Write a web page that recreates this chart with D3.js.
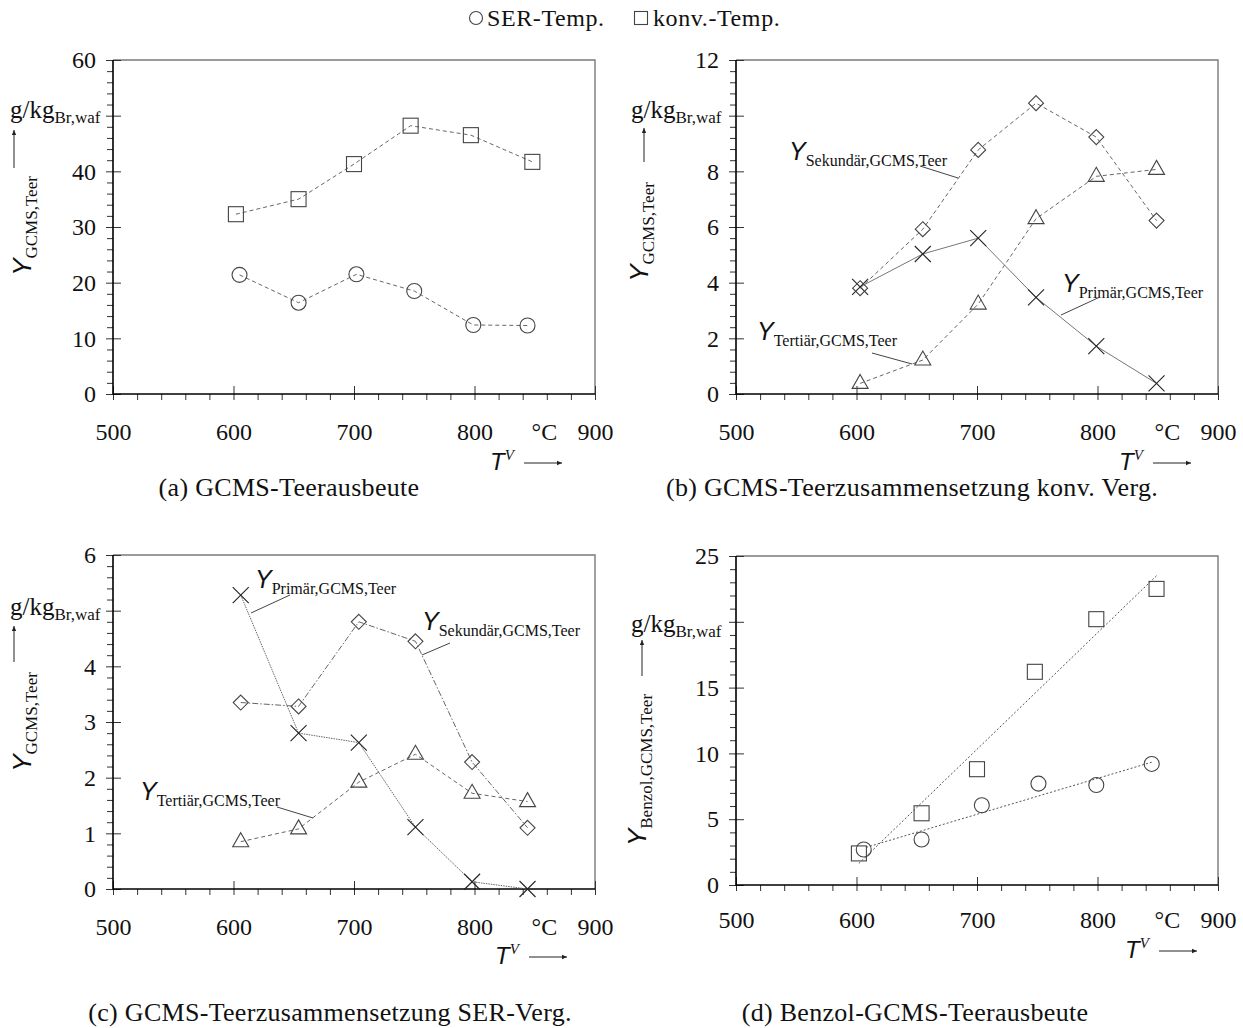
<!DOCTYPE html>
<html><head><meta charset="utf-8">
<script src="https://cdn.jsdelivr.net/npm/d3@7"></script>
<style>
body{margin:0;background:#fff}
svg text{font-family:"Liberation Serif","DejaVu Serif",serif;fill:#111}
</style>
</head><body>
<svg id="chart" width="1243" height="1028"></svg>
<script>
// ---------- data ----------
const xTickValues = [500, 600, 700, 800, 900];
const legendLabels = ["SER-Temp.", "konv.-Temp."];
const captions = ["(a) GCMS-Teerausbeute", "(b) GCMS-Teerzusammensetzung konv. Verg.",
                  "(c) GCMS-Teerzusammensetzung SER-Verg.", "(d) Benzol-GCMS-Teerausbeute"];

// (a) GCMS tar yield
const aTempSER  = [605, 654, 702, 750, 799, 844];
const aYieldSER = [21.4, 16.4, 21.5, 18.5, 12.4, 12.3];
const aTempKonv = [602, 654, 700, 747, 797, 848];
const aYieldKonv = [32.3, 35.0, 41.3, 48.2, 46.5, 41.7];
const aYTicks = [0, 10, 20, 30, 40, 50, 60];

// (b) composition, conventional gasification
const bTemp = [603, 655, 701, 749, 799, 849];
const bSekundaer = [3.8, 5.92, 8.77, 10.45, 9.23, 6.23];
const bPrimaer   = [3.85, 5.03, 5.6, 3.47, 1.72, 0.38];
const bTertiaer  = [0.38, 1.22, 3.23, 6.3, 7.82, 8.07];
const bYTicks = [0, 2, 4, 6, 8, 10, 12];

// (c) composition, SER gasification
const cTemp = [606, 654, 704, 751, 798, 844];
const cSekundaer = [3.35, 3.28, 4.8, 4.45, 2.28, 1.1];
const cPrimaer   = [5.28, 2.8, 2.63, 1.11, 0.13, 0.0];
const cTertiaer  = [0.85, 1.08, 1.92, 2.42, 1.72, 1.57];
const cYTicks = [0, 1, 2, 3, 4, 5, 6];

// (d) benzene yield
const dTempKonv  = [602, 654, 700, 748, 799, 849];
const dYieldKonv = [2.4, 5.45, 8.8, 16.2, 20.2, 22.5];
const dTempSER   = [606, 654, 704, 751, 799, 845];
const dYieldSER  = [2.7, 3.46, 6.06, 7.7, 7.6, 9.2];
const dTrendKonvT = [602, 849];
const dTrendKonvY = [1.64, 23.5];
const dTrendSERT  = [608, 845];
const dTrendSERY  = [2.86, 9.33];
const dYTicks = [0, 5, 10, 15, 20, 25];

// ---------- drawing ----------
const svg = d3.select("#chart");
const INK = "#333";
const TICKFONT = 24;

function marker(g, type, cx, cy) {
  const s = g.append("g").attr("transform", `translate(${cx},${cy})`)
    .attr("fill", "none").attr("stroke", "#444").attr("stroke-width", 1.1);
  if (type === "circle") s.append("circle").attr("r", 7.5);
  else if (type === "square") s.append("rect").attr("x", -7.5).attr("y", -7.5).attr("width", 15).attr("height", 15);
  else if (type === "diamond") s.append("path").attr("d", "M0,-7.5L7.5,0L0,7.5L-7.5,0Z");
  else if (type === "triangle") s.append("path").attr("d", "M0,-9L8,5L-8,5Z");
  else if (type === "cross") s.append("path").attr("d", "M-8,-8L8,8M-8,8L8,-8").attr("stroke", "#222");
}

function panel(o) {
  const g = svg.append("g");
  const x = d3.scaleLinear().domain([500, 900]).range([o.l, o.r]);
  const y = d3.scaleLinear().domain([0, o.ymax]).range([o.b, o.t]);

  // top / right frame
  g.append("path").attr("d", `M${o.l},${o.t}H${o.r}V${o.b}`)
    .attr("fill", "none").attr("stroke", "#7a7a7a").attr("stroke-width", 1.4);

  const style = sel => { sel.select(".domain").remove(); sel.selectAll("line").attr("stroke", INK); };

  // x axis ticks
  const xMinor = d3.range(500, 901, 20).filter(v => v % 100 !== 0);
  g.append("g").attr("transform", `translate(0,${o.b})`)
    .call(d3.axisBottom(x).tickValues(xMinor).tickSize(6).tickFormat("")).call(style);
  g.append("g").attr("transform", `translate(0,${o.b})`)
    .call(d3.axisBottom(x).tickValues(xTickValues).tickSize(-8).tickFormat("")).call(style);
  const xa = g.append("g").attr("transform", `translate(0,${o.b})`)
    .call(d3.axisBottom(x).tickValues(xTickValues).tickSize(6).tickPadding(o.xpad)).call(style);
  xa.selectAll("text").attr("font-size", TICKFONT).attr("font-family", "Liberation Serif");
  // degC label in tick row
  g.append("text").attr("x", x(858)).attr("y", o.b + 6 + o.xpad).attr("dy", "0.71em")
    .attr("text-anchor", "middle").attr("font-size", TICKFONT).text("°C");

  // y axis
  const yMajor = o.yTicks;
  const step = yMajor[1] - yMajor[0];
  const yMinor = d3.range(0, o.ymax + 1e-9, step / 5).filter(v => Math.abs(v / step - Math.round(v / step)) > 1e-6);
  g.append("g").attr("transform", `translate(${o.l},0)`)
    .call(d3.axisLeft(y).tickValues(yMinor).tickSize(6).tickFormat("")).call(style);
  g.append("g").attr("transform", `translate(${o.l},0)`)
    .call(d3.axisLeft(y).tickValues(yMajor).tickSize(-8).tickFormat("")).call(style);
  const ya = g.append("g").attr("transform", `translate(${o.l},0)`)
    .call(d3.axisLeft(y).tickValues(yMajor).tickSize(7).tickPadding(o.ypad)
      .tickFormat(v => v === o.skip ? "" : v)).call(style);
  ya.selectAll("text").attr("font-size", TICKFONT).attr("font-family", "Liberation Serif");

  // axis lines (black)
  g.append("path").attr("d", `M${o.l},${o.t}V${o.b}H${o.r}`)
    .attr("fill", "none").attr("stroke", "#000").attr("stroke-width", 1.6);

  // unit label + arrow
  const u = g.append("text").attr("x", o.unitX).attr("y", o.unitY).attr("font-size", 25);
  u.append("tspan").text("g/kg");
  u.append("tspan").attr("font-size", 17).attr("dy", 5).text("Br,waf");
  arrow(g, o.arrowX, o.arrowY0, o.arrowX, o.arrowY1);

  // rotated y title
  const yt = g.append("text").attr("transform", `translate(${o.ytX},${o.ytY}) rotate(-90)`)
    .attr("text-anchor", "middle");
  yt.append("tspan").attr("font-family", "Liberation Sans").attr("font-style", "italic")
    .attr("font-size", 26).text("Y");
  yt.append("tspan").attr("font-size", 17).attr("dy", 6).text(o.ySub);

  // x title T^V ->
  const xt = g.append("text").attr("x", o.txX).attr("y", o.txY);
  xt.append("tspan").attr("font-family", "Liberation Sans").attr("font-style", "italic")
    .attr("font-size", 24).text("T");
  xt.append("tspan").attr("font-size", 15).attr("font-style", "italic").attr("dy", -10).text("V");
  arrow(g, o.txX + 34, o.txY - 7, o.txX + 72, o.txY - 7);

  // caption
  g.append("text").attr("x", o.capX).attr("y", o.capY).attr("text-anchor", "middle")
    .attr("font-size", 26).attr("letter-spacing", 0.3).text(o.caption);

  return {g, x, y};
}

function arrow(g, x0, y0, x1, y1) {
  g.append("line").attr("x1", x0).attr("y1", y0).attr("x2", x1).attr("y2", y1)
    .attr("stroke", "#222").attr("stroke-width", 1);
  const a = Math.atan2(y1 - y0, x1 - x0), L = 5, W = 2.2;
  const p = [[x1, y1],
    [x1 - L * Math.cos(a) + W * Math.sin(a), y1 - L * Math.sin(a) - W * Math.cos(a)],
    [x1 - L * Math.cos(a) - W * Math.sin(a), y1 - L * Math.sin(a) + W * Math.cos(a)]];
  g.append("path").attr("d", "M" + p.join("L") + "Z").attr("fill", "#222");
}

function series(P, xs, ys, type, dash, color, width) {
  const pts = xs.map((v, i) => [P.x(v), P.y(ys[i])]);
  if (dash !== null) {
    P.g.append("path").attr("d", d3.line()(pts)).attr("fill", "none")
      .attr("stroke", color).attr("stroke-width", width).attr("stroke-dasharray", dash);
  }
  if (type) pts.forEach(p => marker(P.g, type, p[0], p[1]));
}

function trend(P, xs, ys, dash) {
  const pts = xs.map((v, i) => [P.x(v), P.y(ys[i])]);
  P.g.append("path").attr("d", d3.line()(pts)).attr("fill", "none")
    .attr("stroke", "#555").attr("stroke-width", 1).attr("stroke-dasharray", dash);
}

function annot(g, tx, ty, sub, lx0, ly0, lx1, ly1) {
  const t = g.append("text").attr("x", tx).attr("y", ty);
  t.append("tspan").attr("font-family", "Liberation Sans").attr("font-style", "italic")
    .attr("font-size", 25).text("Y");
  t.append("tspan").attr("font-size", 16).attr("dy", 6).text(sub);
  g.append("line").attr("x1", lx0).attr("y1", ly0).attr("x2", lx1).attr("y2", ly1)
    .attr("stroke", "#444").attr("stroke-width", 1);
}

// legend
const lg = svg.append("g");
marker(lg, "circle", 476, 18);
lg.append("text").attr("x", 487).attr("y", 26).attr("font-size", 24).attr("letter-spacing", 0.6).text(legendLabels[0]);
marker(lg, "square", 641, 18);
lg.selectAll("circle").attr("r", 6.5);
lg.selectAll("rect").attr("x", -6.5).attr("y", -6.5).attr("width", 13).attr("height", 13);
lg.append("text").attr("x", 653).attr("y", 26).attr("font-size", 24).attr("letter-spacing", 0.6).text(legendLabels[1]);

// (a)
const A = panel({l: 113, r: 595, t: 60, b: 394, ymax: 60, yTicks: aYTicks, skip: 50,
  xpad: 23, ypad: 10, unitX: 10, unitY: 118, arrowX: 14, arrowY0: 168, arrowY1: 130,
  ySub: "GCMS,Teer", ytX: 31, ytY: 226, txX: 490, txY: 470, capX: 289, capY: 496, caption: captions[0]});
series(A, aTempKonv, aYieldKonv, "square", "4,3", "#555", 0.9);
series(A, aTempSER, aYieldSER, "circle", "4,3", "#555", 0.9);

// (b)
const B = panel({l: 736, r: 1218, t: 60, b: 394, ymax: 12, yTicks: bYTicks, skip: 10,
  xpad: 23, ypad: 10, unitX: 631, unitY: 118, arrowX: 644, arrowY0: 162, arrowY1: 128,
  ySub: "GCMS,Teer", ytX: 648, ytY: 232, txX: 1119, txY: 470, capX: 912, capY: 496, caption: captions[1]});
series(B, bTemp, bTertiaer, "triangle", "4,3", "#555", 0.9);
series(B, bTemp, bPrimaer, "cross", "", "#777", 1);
series(B, bTemp, bSekundaer, "diamond", "4,3", "#555", 0.9);
annot(B.g, 789, 160, "Sekundär,GCMS,Teer", 920, 166, 958, 178);
annot(B.g, 1062, 292, "Primär,GCMS,Teer", 1100, 297, 1061, 315);
annot(B.g, 757, 340, "Tertiär,GCMS,Teer", 872, 353, 912, 364);

// (c)
const C = panel({l: 113, r: 595, t: 555, b: 889, ymax: 6, yTicks: cYTicks, skip: 5,
  xpad: 23, ypad: 10, unitX: 10, unitY: 615, arrowX: 14, arrowY0: 662, arrowY1: 626,
  ySub: "GCMS,Teer", ytX: 31, ytY: 722, txX: 495, txY: 964, capX: 330, capY: 1021, caption: captions[2]});
series(C, cTemp, cTertiaer, "triangle", "4,3", "#555", 0.9);
series(C, cTemp, cPrimaer, "cross", "1.5,1", "#666", 1);
series(C, cTemp, cSekundaer, "diamond", "6,2,1.5,2", "#555", 0.9);
annot(C.g, 255, 588, "Primär,GCMS,Teer", 290, 595, 251, 613);
annot(C.g, 422, 630, "Sekundär,GCMS,Teer", 450, 643, 422, 655);
annot(C.g, 140, 800, "Tertiär,GCMS,Teer", 277, 807, 313, 818);

// (d)
const D = panel({l: 736, r: 1218, t: 556, b: 885, ymax: 25, yTicks: dYTicks, skip: 20,
  xpad: 20, ypad: 10, unitX: 631, unitY: 632, arrowX: 642, arrowY0: 676, arrowY1: 640,
  ySub: "Benzol,GCMS,Teer", ytX: 646, ytY: 770, txX: 1125, txY: 958, capX: 915, capY: 1021, caption: captions[3]});
trend(D, dTrendKonvT, dTrendKonvY, "2,2");
trend(D, dTrendSERT, dTrendSERY, "2,2");
series(D, dTempKonv, dYieldKonv, "square", null);
series(D, dTempSER, dYieldSER, "circle", null);
</script>
</body></html>
